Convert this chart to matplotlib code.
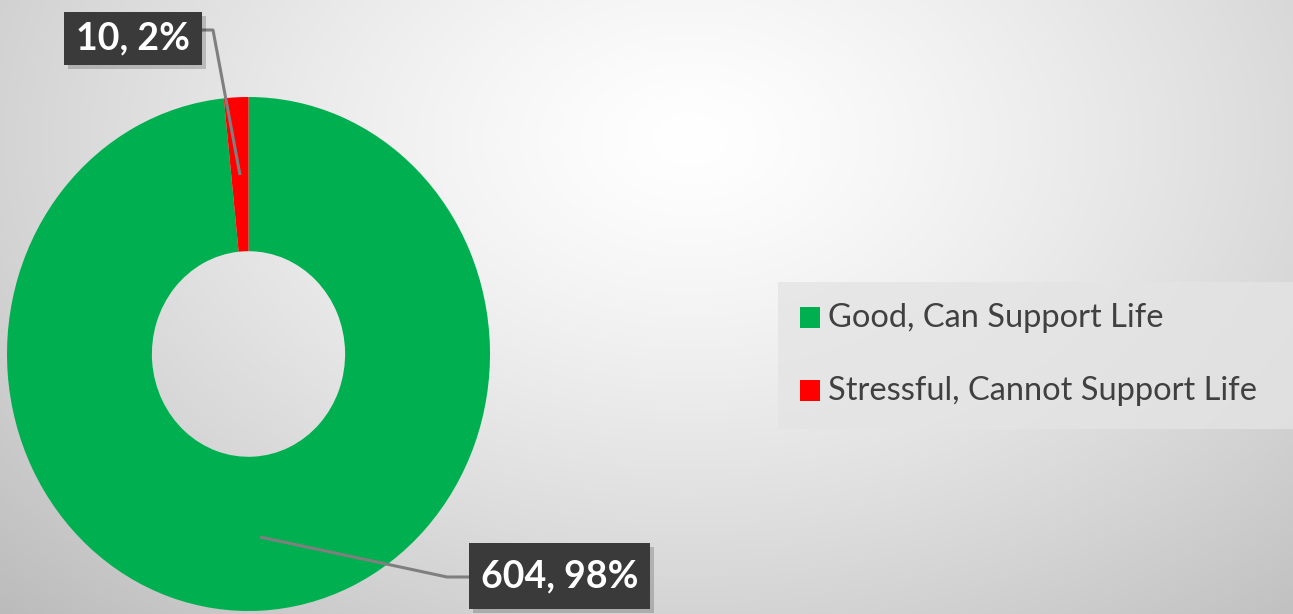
import numpy as np
import matplotlib
matplotlib.use("Agg")
import matplotlib.pyplot as plt
from matplotlib.patches import Rectangle

categories = ["Good, Can Support Life", "Stressful, Cannot Support Life"]
counts = [604, 10]
percents = [98, 2]
colors = ["#00B050", "#FF0000"]

W, H = 1293, 614
fig = plt.figure(figsize=(W / 100, H / 100), dpi=100)
ax = fig.add_axes([0, 0, 1, 1])
ax.set_xlim(0, W)
ax.set_ylim(0, H)
ax.axis("off")

# radial gradient background
yy, xx = np.mgrid[0:H, 0:W]
cx, cy = 690, H - 140
d = np.sqrt(((xx - cx) / 900.0) ** 2 + ((yy - cy) / 620.0) ** 2)
val = 1.0 - 0.24 * np.clip(d, 0, 1.3) ** 1.3
bg = np.dstack([val, val, val])
ax.imshow(bg, extent=[0, W, 0, H], origin="lower", zorder=0, aspect="auto")

# donut (slightly elliptical as in reference) in its own axes
px0, px1, py0, py1 = 7, 490, 97, 611
pax = fig.add_axes([px0 / W, 1 - py1 / H, (px1 - px0) / W, (py1 - py0) / H])
pax.patch.set_alpha(0)
pax.pie(counts, colors=colors, startangle=90, counterclock=False, radius=1,
        frame=True, wedgeprops=dict(width=0.6, linewidth=0))
pax.set_xlim(-1, 1)
pax.set_ylim(-1, 1)
pax.set_aspect("auto")
pax.axis("off")

# overlay axes for labels / legend
ov = fig.add_axes([0, 0, 1, 1])
ov.set_xlim(0, W)
ov.set_ylim(0, H)
ov.patch.set_alpha(0)
ov.axis("off")

font = "Lato"
label_texts = [f"{c}, {p}%" for c, p in zip(counts, percents)]

def label_box(x0, y0_px, w, h, text, fs):
    y0 = H - y0_px - h
    ov.add_patch(Rectangle((x0 + 4, y0 - 4), w, h, facecolor="#000000", alpha=0.18,
                           linewidth=0, zorder=4))
    ov.add_patch(Rectangle((x0, y0), w, h, facecolor="#3A3A3A", linewidth=0, zorder=5))
    ov.text(x0 + w / 2, y0 + h / 2, text, color="white", fontsize=fs, fontweight="bold",
            family=font, ha="center", va="center", zorder=6)

line_kw = dict(color="#7F7F7F", linewidth=2.2, zorder=3, solid_capstyle="butt")
ov.plot([202, 213, 240], [H - 30, H - 30, H - 175], **line_kw)
ov.plot([260, 447, 470], [H - 537, H - 577, H - 577], **line_kw)

label_box(64, 12, 138, 53, label_texts[1], 27)
label_box(469, 543, 181, 66, label_texts[0], 27)

# legend
lx0, ly0, lw, lh = 778, 282, 520, 147
ov.add_patch(Rectangle((lx0, H - ly0 - lh), lw, lh, facecolor="#E4E4E4", edgecolor="none",
                       alpha=0.8, zorder=1))
for i, (cat, col) in enumerate(zip(categories, colors)):
    yc = H - (318 + i * 73)
    ov.add_patch(Rectangle((800, yc - 10), 20, 21, facecolor=col, linewidth=0, zorder=2))
    ov.text(828, yc, cat, fontsize=23.5, family=font, color="#404040", ha="left",
            va="center", zorder=2)

fig.savefig("out.png", dpi=100)
